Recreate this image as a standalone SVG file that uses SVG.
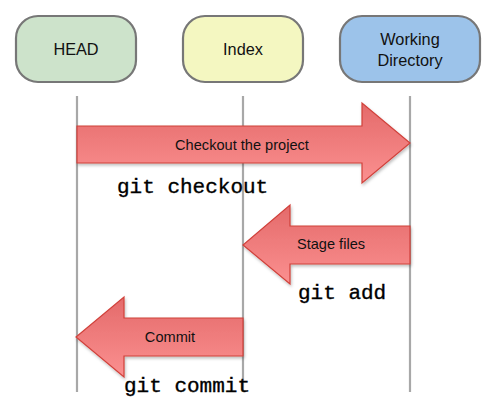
<svg xmlns="http://www.w3.org/2000/svg" width="488" height="416" viewBox="0 0 488 416">
<defs>
<linearGradient id="ag" x1="0" y1="0" x2="0" y2="1">
<stop offset="0" stop-color="#e46a6a"/>
<stop offset="1" stop-color="#fb9090"/>
</linearGradient>
<filter id="sh" x="-10%" y="-10%" width="130%" height="140%">
<feDropShadow dx="1" dy="2" stdDeviation="1.5" flood-color="#000" flood-opacity="0.25"/>
</filter>
<style>
.node{stroke:#777;stroke-width:2.2}
.nt{font-family:"Liberation Sans",Arial,sans-serif;font-size:16.3px;fill:#111;text-anchor:middle}
.life{stroke:#a8a8a8;stroke-width:2.2}
.arr{fill:url(#ag);stroke:#d0403a;stroke-width:1.2;filter:url(#sh)}
.at{font-family:"Liberation Sans",Arial,sans-serif;font-size:14.6px;fill:#111;text-anchor:middle}
.cmd{font-family:"Liberation Mono","DejaVu Sans Mono",monospace;font-size:21px;fill:#000;stroke:#000;stroke-width:0.35}
</style>
</defs>
<g id="lifelines">
<line class="life" x1="77" y1="96" x2="77" y2="392"/>
<line class="life" x1="243" y1="96" x2="243" y2="392"/>
<line class="life" x1="410" y1="96" x2="410" y2="392"/>
</g>
<g id="head">
<rect class="node" x="16" y="16" width="120" height="66" rx="22" fill="#cde3cb"/>
<text class="nt" x="76" y="55">HEAD</text>
</g>
<g id="index">
<rect class="node" x="183" y="16" width="120" height="66" rx="22" fill="#f4f7c1"/>
<text class="nt" x="243" y="55">Index</text>
</g>
<g id="workdir">
<rect class="node" x="340" y="16" width="140" height="66" rx="22" fill="#9cc3ea"/>
<text class="nt" x="410" y="45">Working</text>
<text class="nt" x="410" y="66">Directory</text>
</g>
<g id="connectors">
<g id="checkout">
<polygon class="arr" points="77,126 362,126 362,103 410,143 362,183 362,163 77,163"/>
<text class="at" x="242" y="150">Checkout the project</text>
<text class="cmd" x="117" y="193">git checkout</text>
</g>
<g id="stage">
<polygon class="arr" points="410,226 290,226 290,205 243,245 290,284 290,264 410,264"/>
<text class="at" x="331" y="249">Stage files</text>
<text class="cmd" x="298" y="299">git add</text>
</g>
<g id="commit">
<polygon class="arr" points="243,318 124,318 124,297 76,337 124,377 124,356 243,356"/>
<text class="at" x="170" y="342">Commit</text>
<text class="cmd" x="124" y="392">git commit</text>
</g>
</g>
</svg>
